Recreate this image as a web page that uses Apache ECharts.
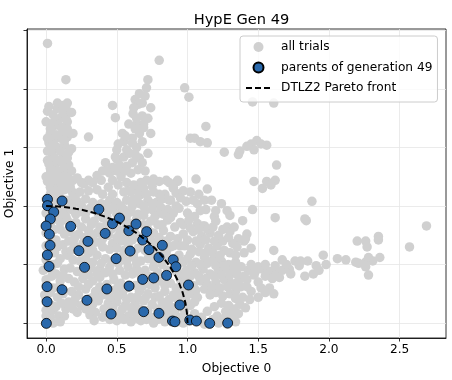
<!DOCTYPE html>
<html>
<head>
<meta charset="utf-8">
<script src="https://cdn.jsdelivr.net/npm/echarts@6/dist/echarts.min.js"></script>
<style>
html,body{margin:0;padding:0;background:#fff;}
#chart{width:452px;height:380px;}
</style>
</head>
<body>
<div id="chart"></div>
<script>
// ---- data ----
const chartTitle = 'HypE Gen 49';
const xName = 'Objective 0';
const yName = 'Objective 1';
const xTicks = [0, 0.5, 1.0, 1.5, 2.0, 2.5];
const yTicks = [0, 0.5, 1.0, 1.5, 2.0, 2.5];

// all trials (grey)
const allTrials = [
  [0.01,2.39],[0.80,2.245],[0.14,2.08],[0.72,2.08],[0.98,2.01],[0.71,2.01],[1.01,1.93],[0.70,1.94],
  [0.63,1.91],[0.655,1.87],[0.47,1.86],[1.46,1.89],[1.61,1.88],[0.74,1.84],[0.615,1.79],[0.68,1.77],
  [0.49,1.755],[0.585,1.70],[0.643,1.70],[0.69,1.70],[0.69,1.67],[1.13,1.68],[0.54,1.62],[0.30,1.59],
  [1.02,1.58],[1.05,1.58],[1.09,1.55],[1.14,1.54],[0.61,1.58],[0.61,1.54],[0.68,1.55],[0.51,1.53],
  [0.50,1.48],[0.49,1.42],[0.63,1.44],[0.66,1.41],[0.61,1.37],[0.68,1.37],[0.57,1.34],[0.42,1.37],
  [0.50,1.40],[0.52,1.35],[0.50,1.30],[0.53,1.25],[0.51,1.18],[0.55,1.12],[0.45,1.28],[0.40,1.30],
  [1.26,1.46],[1.36,1.44],[1.37,1.47],[1.42,1.51],[1.45,1.53],[1.49,1.56],[1.47,1.48],[1.56,1.52],
  [1.52,1.53],[1.63,1.35],[1.47,1.21],[1.56,1.21],[1.62,1.22],[1.59,1.18],[1.53,1.15],[1.06,1.23],
  [1.14,1.145],[1.88,1.04],[1.84,0.875],[1.46,0.97],[1.62,0.90],[1.61,0.62],[1.83,0.89],
  // upper spike, extra
  [0.55,1.55],[0.57,1.48],[0.55,1.42],[0.59,1.45],[0.64,1.50],[0.66,1.62],[0.63,1.66],[0.56,1.60],
  [0.72,1.45],[0.70,1.30],[0.65,1.31],[0.60,1.28],[0.56,1.30],[0.47,1.33],[0.72,1.75],[0.66,1.96],
  [0.68,1.88],[0.62,1.84],[0.64,1.75],[0.74,1.62],
  // left column
  [0.08,1.88],[0.15,1.88],[0.08,1.835],[0.145,1.82],[0.01,1.81],[0.14,1.75],[0.10,1.75],[0.00,1.72],
  [0.056,1.72],[0.15,1.72],[0.05,1.68],[0.15,1.66],[0.09,1.69],[0.03,1.62],[0.12,1.63],[0.10,1.58],
  [0.15,1.59],[0.06,1.57],[0.02,1.54],[0.08,1.50],[0.18,1.49],[0.13,1.52],[0.04,1.45],[0.12,1.42],
  [0.16,1.46],[0.01,1.39],[0.07,1.36],[0.11,1.38],[0.16,1.35],[0.03,1.32],[0.11,1.28],[0.03,1.28],
  [0.07,1.25],[0.15,1.26],[0.01,1.21],[0.10,1.21],[0.07,1.17],[0.17,1.17],[0.13,1.14],[0.03,1.10],
  [0.09,1.11],[0.14,1.05],[0.05,1.05],[0.19,1.08],[0.04,0.99],[0.08,0.91],[0.12,0.95],[0.00,0.77],
  [0.07,0.71],[0.10,0.80],[0.12,0.67],[0.06,0.60],[0.10,0.55],[0.05,0.50],[0.13,0.46],[-0.02,0.45],
  [0.07,0.42],[0.00,0.37],[0.10,0.36],[0.05,0.30],[0.12,0.25],[0.08,0.22],[0.04,0.15],[0.00,0.11],
  [0.05,0.11],[0.14,0.12],[0.09,0.06],[0.03,0.05],[0.16,0.18],
  [0.02,1.85],[0.12,1.86],[0.05,1.78],[0.12,1.79],[0.18,1.80],[0.03,1.66],[0.11,1.67],[0.19,1.62],
  [0.07,1.61],[0.01,1.58],[0.13,1.56],[0.05,1.52],[0.10,1.47],[0.01,1.47],[0.15,1.41],[0.06,1.41],
  [0.02,1.36],[0.13,1.33],[0.08,1.30],[0.18,1.30],[0.00,1.25],[0.12,1.24],[0.05,1.21],[0.19,1.22],
  [0.14,1.19],[0.03,1.16],[0.10,1.15],[0.18,1.13],[0.06,1.13],[0.00,1.06],[0.10,1.07],[0.17,1.03],
  [0.08,1.01],[0.15,0.99],[0.00,0.94],[0.14,0.91],[0.04,0.87],[0.10,0.86],[0.00,0.82],[0.06,0.80],
  [0.13,0.76],[0.04,0.72],[0.00,0.66],[0.08,0.65],[0.03,0.62],[0.14,0.61],[0.00,0.54],[0.08,0.51],
  [0.03,0.46],[0.12,0.41],[0.04,0.40],[0.00,0.32],[0.09,0.31],[0.03,0.26],[0.00,0.20],[0.11,0.17],
  [0.07,0.14],[0.00,0.06],[0.13,0.06],[0.05,0.00],[0.10,0.01],[-0.01,0.24],
  // middle block
  [0.22,1.24],[0.30,1.22],[0.36,1.26],[0.43,1.30],[0.47,1.22],[0.64,1.14],[0.69,1.15],[0.71,1.22],
  [0.76,1.23],[0.80,1.21],[0.85,1.22],[0.93,1.22],[0.84,1.10],[0.57,1.05],[0.62,1.06],[0.80,1.10],
  [0.88,1.05],[0.92,1.00],[0.86,0.97],
  [0.16,1.16],[0.21,1.10],[0.27,1.19],[0.33,1.20],[0.36,1.14],[0.40,1.10],[0.44,1.16],[0.60,1.12],
  [0.22,1.04],[0.28,1.06],[0.33,1.03],[0.39,1.02],[0.45,1.05],[0.50,1.03],[0.66,1.02],[0.72,1.05],
  [0.78,1.03],[0.82,1.06],
  [0.18,0.97],[0.25,0.95],[0.31,0.98],[0.44,0.96],[0.48,0.99],[0.55,0.97],[0.60,0.95],[0.65,0.93],
  [0.70,0.96],[0.75,0.97],[0.80,0.94],
  [0.15,0.88],[0.21,0.86],[0.28,0.89],[0.34,0.87],[0.40,0.90],[0.53,0.88],[0.58,0.86],[0.74,0.87],
  [0.79,0.84],[0.86,0.88],
  [0.17,0.78],[0.23,0.76],[0.30,0.79],[0.36,0.77],[0.46,0.80],[0.52,0.76],[0.64,0.75],[0.76,0.77],
  [0.83,0.79],[0.88,0.74],
  [0.16,0.70],[0.20,0.66],[0.26,0.68],[0.35,0.69],[0.40,0.65],[0.47,0.68],[0.53,0.70],[0.58,0.66],
  [0.65,0.64],[0.77,0.67],[0.85,0.61],[0.90,0.66],
  [0.15,0.58],[0.19,0.54],[0.30,0.60],[0.36,0.58],[0.42,0.55],[0.54,0.57],[0.62,0.56],[0.67,0.53],
  [0.72,0.55],[0.86,0.56],[0.94,0.58],
  [0.17,0.47],[0.22,0.44],[0.32,0.47],[0.38,0.46],[0.45,0.48],[0.52,0.45],[0.58,0.48],[0.64,0.46],
  [0.70,0.45],[0.76,0.48],[0.82,0.50],[0.92,0.44],
  [0.16,0.38],[0.20,0.35],[0.26,0.38],[0.33,0.36],[0.38,0.39],[0.48,0.37],[0.53,0.34],[0.63,0.32],
  [0.73,0.33],[0.80,0.36],[0.88,0.34],[0.95,0.37],
  [0.18,0.27],[0.23,0.24],[0.28,0.29],[0.35,0.27],[0.40,0.24],[0.48,0.28],[0.54,0.25],[0.60,0.22],
  [0.66,0.27],[0.72,0.25],[0.77,0.22],[0.84,0.27],[0.90,0.24],[0.96,0.28],
  [0.20,0.18],[0.25,0.15],[0.33,0.16],[0.37,0.19],[0.44,0.17],[0.50,0.18],[0.56,0.15],[0.63,0.17],
  [0.69,0.19],[0.75,0.16],[0.82,0.18],[0.88,0.14],[0.93,0.20],[0.99,0.19],
  [0.22,0.09],[0.31,0.07],[0.35,0.09],[0.40,0.05],[0.52,0.08],[0.58,0.06],[0.63,0.09],[0.74,0.05],
  [0.82,0.06],[0.86,0.09],[0.95,0.05],[0.98,0.10],
  [0.60,0.01],[0.67,0.02],[0.76,0.00],[0.84,0.01],[0.97,0.00],[1.00,0.02],
  // middle block, in-between rows
  [0.25,1.20],[0.39,1.22],[0.57,1.20],[0.62,1.18],[0.67,1.20],[0.75,1.17],[0.90,1.16],
  [0.24,1.12],[0.30,1.13],[0.47,1.10],[0.58,1.13],[0.66,1.09],[0.71,1.10],[0.76,1.12],[0.92,1.11],
  [0.19,1.02],[0.25,1.00],[0.36,0.99],[0.42,1.01],[0.53,1.00],[0.61,1.00],[0.69,1.00],[0.75,1.02],[0.81,0.99],
  [0.21,0.93],[0.28,0.94],[0.37,0.93],[0.43,0.91],[0.50,0.93],[0.57,0.92],[0.64,0.89],[0.69,0.92],
  [0.77,0.91],[0.83,0.93],[0.90,0.94],
  [0.18,0.83],[0.25,0.82],[0.32,0.84],[0.38,0.82],[0.43,0.85],[0.50,0.82],[0.56,0.81],[0.62,0.80],
  [0.69,0.84],[0.72,0.80],[0.82,0.84],[0.91,0.82],
  [0.20,0.72],[0.27,0.73],[0.33,0.74],[0.40,0.72],[0.44,0.75],[0.50,0.73],[0.56,0.72],[0.61,0.71],
  [0.70,0.73],[0.74,0.71],[0.80,0.73],[0.85,0.70],[0.93,0.72],
  [0.18,0.62],[0.24,0.63],[0.30,0.65],[0.33,0.62],[0.45,0.63],[0.50,0.64],[0.55,0.62],[0.62,0.60],
  [0.70,0.62],[0.74,0.60],[0.80,0.62],[0.88,0.65],[0.95,0.66],
  [0.24,0.53],[0.28,0.55],[0.33,0.52],[0.39,0.51],[0.47,0.53],[0.51,0.51],[0.57,0.53],[0.64,0.51],
  [0.76,0.53],[0.80,0.56],[0.91,0.55],[0.97,0.52],
  [0.26,0.43],[0.30,0.41],[0.36,0.42],[0.42,0.43],[0.47,0.42],[0.56,0.41],[0.61,0.42],[0.67,0.41],
  [0.73,0.40],[0.79,0.43],[0.86,0.45],[0.97,0.42],
  [0.23,0.31],[0.30,0.33],[0.38,0.31],[0.43,0.33],[0.51,0.31],[0.57,0.30],[0.68,0.31],[0.77,0.30],
  [0.84,0.32],[0.92,0.30],[0.98,0.33],
  [0.21,0.22],[0.31,0.21],[0.34,0.23],[0.45,0.22],[0.51,0.23],[0.57,0.20],[0.64,0.22],[0.70,0.21],
  [0.80,0.23],[0.87,0.20],[0.94,0.24],[1.00,0.25],
  [0.19,0.12],[0.28,0.12],[0.32,0.11],[0.41,0.12],[0.47,0.13],[0.54,0.12],[0.60,0.13],[0.66,0.12],
  [0.72,0.11],[0.79,0.12],[0.85,0.13],[0.91,0.10],[0.97,0.14],
  [0.34,0.02],[0.45,0.03],[0.50,0.02],[0.55,0.03],[0.64,0.04],[0.71,0.03],[0.79,0.03],[0.88,0.04],[0.93,0.01],
  // right block
  [0.87,1.05],[0.99,1.04],[1.04,1.05],[1.07,1.02],[1.12,1.05],[0.94,0.98],[1.00,0.94],[1.09,0.96],
  [1.13,0.97],[1.20,0.96],[1.28,0.96],[0.88,0.90],[1.05,0.91],[1.19,0.91],[1.30,0.92],[1.11,0.83],
  [0.97,0.84],[0.87,1.20],[0.93,1.21],
  [0.90,1.15],[0.97,1.13],[1.02,1.12],[1.08,1.10],[1.17,1.05],[1.24,1.02],[0.95,1.07],
  [0.95,0.86],[1.01,0.88],[1.07,0.85],[1.12,0.83],[1.20,0.87],[1.28,0.82],[1.39,0.875],
  [0.97,0.76],[1.04,0.78],[1.10,0.74],[1.16,0.77],[1.22,0.75],[1.30,0.78],[1.36,0.72],[1.42,0.76],
  [1.40,0.70],[1.32,0.68],[1.35,0.65],[1.41,0.72],
  [0.98,0.66],[1.03,0.63],[1.09,0.67],[1.15,0.64],[1.21,0.66],[1.26,0.62],[1.30,0.60],[1.45,0.64],
  [1.00,0.55],[1.06,0.52],[1.12,0.56],[1.18,0.54],[1.24,0.53],[1.29,0.50],[1.34,0.52],
  [0.99,0.45],[1.05,0.43],[1.11,0.46],[1.16,0.42],[1.22,0.45],[1.28,0.46],[1.33,0.47],[1.38,0.48],
  [1.43,0.45],[1.48,0.44],
  [1.53,0.46],[1.58,0.44],[1.63,0.43],[1.67,0.45],[1.72,0.46],[1.79,0.49],[1.76,0.53],[1.67,0.54],
  [1.55,0.40],[1.60,0.38],[1.50,0.35],[1.58,0.30],[1.45,0.27],[1.50,0.22],[1.38,0.31],[1.42,0.37],
  [1.00,0.35],[1.04,0.32],[1.09,0.36],[1.14,0.33],[1.20,0.35],[1.26,0.37],[1.31,0.34],[1.36,0.36],
  [1.03,0.25],[1.07,0.22],[1.20,0.26],[1.25,0.23],[1.30,0.25],[1.34,0.27],[1.39,0.22],
  [1.02,0.15],[1.19,0.14],[1.24,0.17],[1.29,0.15],[1.33,0.12],[1.37,0.16],
  [1.05,0.08],[1.10,0.05],[1.14,0.10],[1.21,0.06],[1.26,0.04],[1.31,0.07],[1.34,0.01],[1.22,0.00],
  [1.12,-0.01],
  [1.02,0.81],[1.08,0.80],[1.14,0.80],[1.18,0.82],[1.25,0.80],[1.33,0.82],[1.00,0.71],[1.06,0.70],
  [1.13,0.71],[1.19,0.70],[1.25,0.70],[1.29,0.73],[1.02,0.59],[1.08,0.61],[1.13,0.60],[1.18,0.60],
  [1.23,0.58],[1.34,0.58],[1.40,0.60],[1.03,0.49],[1.09,0.50],[1.14,0.51],[1.20,0.49],[1.26,0.49],
  [1.02,0.40],[1.08,0.40],[1.13,0.38],[1.19,0.40],[1.24,0.41],[1.30,0.41],[1.35,0.42],[1.40,0.40],
  [1.02,0.29],[1.06,0.28],[1.12,0.29],[1.17,0.30],[1.23,0.30],[1.28,0.31],[1.33,0.32],[1.42,0.31],
  [1.16,0.24],[1.34,0.21],[1.05,0.18],[1.27,0.10],[1.36,0.08],[1.18,0.03],[1.28,-0.01],
  [1.45,0.50],[1.50,0.48],[1.55,0.50],[1.62,0.49],[1.70,0.50],[1.73,0.42],[1.65,0.39],[1.47,0.41],
  [1.52,0.30],[1.44,0.20],[1.41,0.13],
  // far right tail
  [2.69,0.83],[2.57,0.65],[2.20,0.70],[2.26,0.70],[2.35,0.74],[2.35,0.71],[2.27,0.65],[2.06,0.55],
  [2.12,0.54],[2.19,0.52],[2.26,0.52],[2.31,0.53],[2.36,0.56],[2.28,0.56],[2.26,0.48],[2.21,0.51],
  [2.28,0.41],[1.96,0.58],[1.98,0.50],[1.91,0.49],[1.85,0.53],[1.80,0.53],[1.83,0.40],[1.89,0.42],
  [1.93,0.45],[1.55,0.26],[1.61,0.25]
];

// parents of generation 49 (blue)
const parents = [
  [0.01,1.057],[0.01,1.003],[0.113,1.043],[0.054,0.949],[0.03,0.889],[0.00,0.829],[0.023,0.758],
  [0.028,0.664],[0.009,0.581],[0.021,0.484],[0.007,0.311],[0.007,0.182],[0.002,-0.003],[0.113,0.285],
  [0.174,0.826],[0.296,0.698],[0.232,0.618],[0.272,0.476],[0.289,0.194],[0.373,0.972],[0.418,0.766],
  [0.47,0.849],[0.519,0.897],[0.495,0.55],[0.43,0.291],[0.46,0.077],[0.585,0.789],[0.594,0.615],
  [0.636,0.846],[0.587,0.316],[0.683,0.709],[0.711,0.781],[0.728,0.627],[0.683,0.373],[0.69,0.097],
  [0.761,0.385],[0.798,0.561],[0.822,0.664],[0.798,0.083],[0.852,0.407],[0.899,0.541],[0.918,0.481],
  [0.946,0.154],[1.007,0.325],[0.894,0.017],[0.911,0.011],[1.016,0.026],[1.063,0.017],[1.157,-0.003],
  [1.284,0.00]
];

// DTLZ2 Pareto front (quarter circle points)
const frontX = [0.000,0.087,0.174,0.259,0.342,0.423,0.500,0.574,0.643,0.707,0.766,0.819,0.866,0.906,0.940,0.966,0.985,0.996,1.000];
const frontY = [1.000,0.996,0.985,0.966,0.940,0.906,0.866,0.819,0.766,0.707,0.643,0.574,0.500,0.423,0.342,0.259,0.174,0.087,0.000];

const seriesNames = ['all trials', 'parents of generation 49', 'DTLZ2 Pareto front'];

// ---- chart ----
const FONT = 'DejaVu Sans';
const FS = 12.2;
const chart = echarts.init(document.getElementById('chart'), null, {renderer: 'canvas'});
const frontData = frontX.map((x, i) => [x, frontY[i]]);

chart.setOption({
  animation: false,
  backgroundColor: '#ffffff',
  title: {
    text: chartTitle,
    left: 236.5,
    top: 8,
    textAlign: 'center',
    textStyle: {fontFamily: FONT, fontSize: 14.6, fontWeight: 'normal', color: '#000'}
  },
  grid: {
    left: 27, top: 29, width: 419, height: 309,
    containLabel: false, outerBoundsMode: 'none',
    show: true, borderColor: '#000', borderWidth: 0.8, backgroundColor: 'transparent'
  },
  legend: {
    orient: 'vertical',
    left: 240, top: 36,
    itemWidth: 25, itemHeight: 10, itemGap: 8.5,
    padding: [5, 5, 8, 5],
    backgroundColor: 'rgba(255,255,255,0.8)',
    borderColor: '#cccccc', borderWidth: 1, borderRadius: 3,
    textStyle: {fontFamily: FONT, fontSize: FS, color: '#000', padding: [0, 0, 0, 5]},
    data: [
      {name: seriesNames[0]},
      {name: seriesNames[1]},
      {name: seriesNames[2], itemStyle: {opacity: 0}}
    ]
  },
  xAxis: {
    type: 'value',
    min: -0.135, max: 2.828,
    name: xName, nameLocation: 'middle', nameGap: 25,
    nameTextStyle: {fontFamily: FONT, fontSize: FS, color: '#000'},
    axisLine: {show: true, onZero: false, lineStyle: {color: '#000', width: 0.8}},
    axisTick: {show: true, length: 3.5, lineStyle: {color: '#000', width: 0.8}, customValues: xTicks},
    axisLabel: {show: true, margin: 6, fontFamily: FONT, fontSize: FS, color: '#000',
      customValues: xTicks, formatter: v => v.toFixed(1)},
    splitLine: {show: true, lineStyle: {color: '#e6e6e6', width: 0.8}}
  },
  yAxis: {
    type: 'value',
    min: -0.128, max: 2.513,
    name: yName, nameLocation: 'middle', nameGap: 11,
    nameTextStyle: {fontFamily: FONT, fontSize: FS, color: '#000'},
    axisLine: {show: true, onZero: false, lineStyle: {color: '#000', width: 0.8}},
    axisTick: {show: true, length: 3.5, lineStyle: {color: '#000', width: 0.8}, customValues: yTicks},
    axisLabel: {show: false, customValues: yTicks},
    splitLine: {show: true, lineStyle: {color: '#e6e6e6', width: 0.8}}
  },
  series: [
    {
      name: seriesNames[0], type: 'scatter', data: allTrials, z: 2,
      symbol: 'circle', symbolSize: 9.5,
      itemStyle: {color: '#d0d0d0', opacity: 1}
    },
    {
      name: seriesNames[1], type: 'scatter', data: parents, z: 3,
      symbol: 'circle', symbolSize: 10,
      itemStyle: {color: '#2a69ac', borderColor: '#000', borderWidth: 0.8, opacity: 1}
    },
    {
      name: seriesNames[2], type: 'line', data: frontData, z: 4,
      showSymbol: false, symbol: 'none', smooth: false,
      lineStyle: {color: '#000', width: 2, type: [6, 3]},
      itemStyle: {color: '#000'}
    }
  ]
});
</script>
</body>
</html>
